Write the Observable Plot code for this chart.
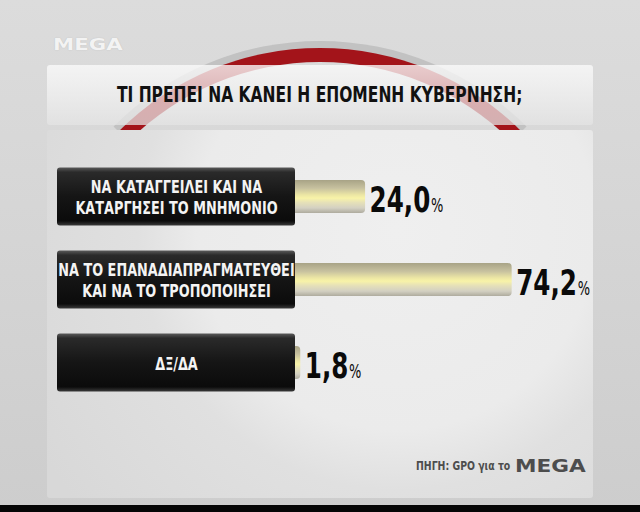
<!DOCTYPE html>
<html>
<head>
<meta charset="utf-8">
<script src="https://cdn.jsdelivr.net/npm/d3@7"></script>
<script src="https://cdn.jsdelivr.net/npm/@observablehq/plot@0.6"></script>
<style>
  html, body { margin: 0; padding: 0; width: 640px; height: 512px; overflow: hidden; }
  body { background: #d3d3d3; font-family: "DejaVu Sans Condensed", "Liberation Sans Narrow", "DejaVu Sans", sans-serif; }
  #stage { position: relative; width: 640px; height: 512px; overflow: hidden;
    background: linear-gradient(180deg, #dcdcdc 0%, #d6d6d6 40%, #cdcdcd 100%); }
  .abs { position: absolute; }
  #arcOuter { left: 28px; top: 41px; width: 584px; height: 584px; box-sizing: border-box; border-radius: 50%;
    border: 8px solid transparent; border-top-color: #c2c2c2; }
  #arc { left: 35px; top: 48px; width: 570px; height: 570px; box-sizing: border-box; border-radius: 50%;
    border: 14px solid transparent; border-top-color: #a3141a; }
  #titleBand { left: 47px; top: 65px; width: 546px; height: 60px;
    background: linear-gradient(180deg, rgba(250,250,250,0.8) 0%, rgba(240,240,240,0.7) 60%, rgba(228,228,228,0.75) 100%);
    border-radius: 3px; }
  #title { left: 47px; top: 83px; width: 546px; text-align: center; font-size: 21px; font-weight: bold; color: #111;
    transform: scaleX(0.82); transform-origin: 271px 0; }
  #panel { left: 47px; top: 130px; width: 546px; height: 368px; border-radius: 3px;
    background: radial-gradient(circle at 350px 100px, #efefef 0px, #ebebeb 200px, #e0e0e0 260px, #d8d8d8 420px); }
  #logo { left: 53px; top: 35px; font-family: "DejaVu Sans", sans-serif; font-weight: bold; font-size: 16px; color: #f3f3f3;
    transform: scaleX(1.33); transform-origin: 0 0; text-shadow: 0 0 1px #b5b5b5; }
  #footer { left: 416px; top: 458px; font-size: 13px; font-weight: bold; color: #4d4d4d; white-space: nowrap;
    transform: scaleX(0.8); transform-origin: 0 0; }
  #footerLogo { left: 515px; top: 455px; font-family: "DejaVu Sans", sans-serif; font-size: 18px; font-weight: bold; color: #4d4d4d;
    transform: scaleX(1.2); transform-origin: 0 0; }
  #bottomStrip { left: 0; top: 505px; width: 640px; height: 7px; background: #050505; }
  #chart { left: 0; top: 0; }
</style>
</head>
<body>
<div id="stage">
  <div class="abs" id="arcOuter"></div>
  <div class="abs" id="arc"></div>
  <div class="abs" id="logo">MEGA</div>
  <div class="abs" id="titleBand"></div>
  <div class="abs" id="title">ΤΙ ΠΡΕΠΕΙ ΝΑ ΚΑΝΕΙ Η ΕΠΟΜΕΝΗ ΚΥΒΕΡΝΗΣΗ;</div>
  <div class="abs" id="panel"></div>
  <div class="abs" id="footer">ΠΗΓΗ: GPO για το</div>
  <div class="abs" id="footerLogo">MEGA</div>
  <div class="abs" id="bottomStrip"></div>
  <div class="abs" id="chart"></div>
</div>
<script>
const categories = [
  "ΝΑ ΚΑΤΑΓΓΕΙΛΕΙ ΚΑΙ ΝΑ\nΚΑΤΑΡΓΗΣΕΙ ΤΟ ΜΝΗΜΟΝΙΟ",
  "ΝΑ ΤΟ ΕΠΑΝΑΔΙΑΠΡΑΓΜΑΤΕΥΘΕΙ\nΚΑΙ ΝΑ ΤΟ ΤΡΟΠΟΠΟΙΗΣΕΙ",
  "ΔΞ/ΔΑ"
];
const values = [24.0, 74.2, 1.8];

const rows = categories.map((label, i) => ({label, value: values[i]}));
const fmt = v => v.toFixed(1).replace(".", ",");

const chart = Plot.plot({
  width: 640,
  height: 512,
  marginLeft: 295,
  marginRight: 53,
  marginTop: 154.5,
  marginBottom: 107.5,
  x: {domain: [0, 100], axis: null},
  y: {domain: categories, axis: null, paddingInner: 0.6, paddingOuter: 0.3},
  style: {background: "transparent", fontFamily: "'DejaVu Sans Condensed', 'Liberation Sans Narrow', sans-serif", overflow: "visible"},
  marks: [
    Plot.barX(rows, {x1: 0, x2: "value", y: "label", fill: "url(#barGrad)", rx: 4, insetLeft: -4}),
    Plot.barX(rows, {x1: 0, x2: 0, y: "label", insetLeft: -238, insetTop: -12.5, insetBottom: -12.5, fill: "url(#boxGrad)", rx: 3}),
    Plot.text(rows, {x: 0, y: "label", text: "label", dx: -119, fill: "#f4f4f4", fontSize: 17, fontWeight: "bold", lineHeight: 1.22}),
    Plot.text(rows, {x: "value", y: "label", text: d => fmt(d.value), dx: 4, dy: 3, textAnchor: "start", fontSize: 36, fontWeight: "bold", fill: "#0a0a0a"})
  ]
});

const svg = d3.select(chart);
svg.insert("defs", ":first-child").html(`
  <linearGradient id="barGrad" x1="0" y1="0" x2="0" y2="1">
    <stop offset="0" stop-color="#a8a386"/>
    <stop offset="0.25" stop-color="#c7c19f"/>
    <stop offset="0.45" stop-color="#ece6a4"/>
    <stop offset="0.55" stop-color="#f8f3a8"/>
    <stop offset="0.68" stop-color="#e6e1b8"/>
    <stop offset="0.85" stop-color="#d3d0c2"/>
    <stop offset="1" stop-color="#aeab9e"/>
  </linearGradient>
  <linearGradient id="boxGrad" x1="0" y1="0" x2="0" y2="1">
    <stop offset="0" stop-color="#5a5a5a"/>
    <stop offset="0.08" stop-color="#2a2a2a"/>
    <stop offset="0.5" stop-color="#151515"/>
    <stop offset="0.92" stop-color="#0b0b0b"/>
    <stop offset="1" stop-color="#3a3a3a"/>
  </linearGradient>
`);

function squeeze(selection, k) {
  selection.each(function() {
    const t = this.getAttribute("transform");
    if (t) this.setAttribute("transform", t + ` scale(${k},1)`);
    else {
      const x = +this.getAttribute("x") || 0, y = +this.getAttribute("y") || 0;
      this.setAttribute("transform", `translate(${x},${y}) scale(${k},1) translate(${-x},${-y})`);
    }
  });
}

const textGroups = svg.selectAll("g[aria-label='text']").nodes();
const labelTexts = d3.select(textGroups[0]).selectAll("text");
const valueTexts = d3.select(textGroups[1]).selectAll("text");
valueTexts.append("tspan").attr("font-size", 19).attr("font-weight", "normal").attr("dx", 1).text("%");
squeeze(labelTexts, 0.84);
squeeze(valueTexts, 0.76);

document.getElementById("chart").appendChild(chart);
</script>
</body>
</html>
